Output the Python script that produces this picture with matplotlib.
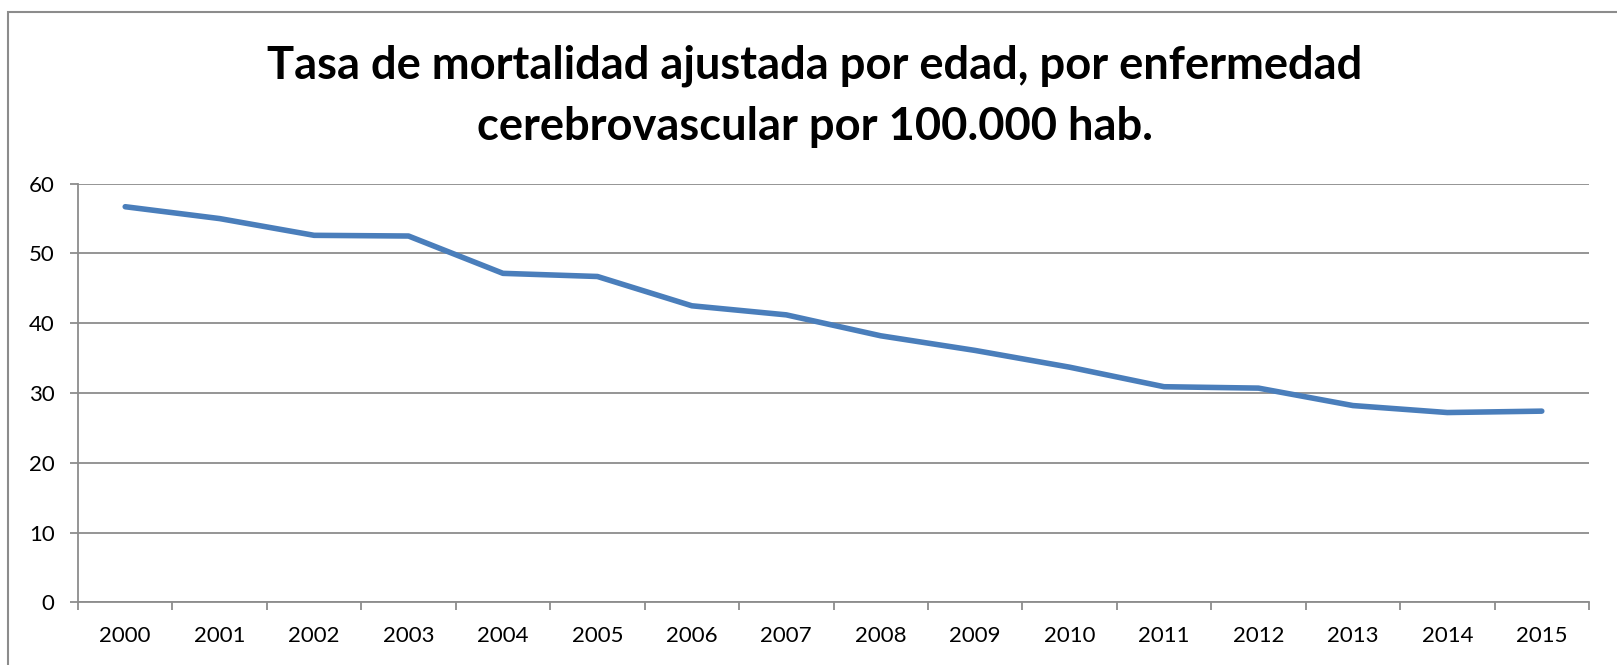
import matplotlib
matplotlib.use("Agg")
import matplotlib.pyplot as plt
from matplotlib.patches import Rectangle
from matplotlib.ticker import FixedLocator, NullFormatter

years = ["2000", "2001", "2002", "2003", "2004", "2005", "2006", "2007",
         "2008", "2009", "2010", "2011", "2012", "2013", "2014", "2015"]
rates = [56.7, 55.0, 52.6, 52.5, 47.15, 46.7, 42.5, 41.2,
         38.2, 36.1, 33.7, 30.9, 30.7, 28.2, 27.2, 27.4]
y_ticks = [0, 10, 20, 30, 40, 50, 60]
title = "Tasa de mortalidad ajustada por edad, por enfermedad\ncerebrovascular por 100.000 hab."

W, H, DPI = 1617, 665, 100
fig = plt.figure(figsize=(W / DPI, H / DPI), dpi=DPI)
fig.patch.set_facecolor("white")

# chart-area border (runs off the right and bottom edges)
fig.patches.append(Rectangle((8 / W, -0.05), 1.2, 1 - 12 / H + 0.05,
                             transform=fig.transFigure, fill=False,
                             edgecolor="#8c8c8c", linewidth=1.5))

ax = fig.add_axes([78 / W, 1 - 602.3 / H, (1589 - 78) / W, (602.3 - 183.7) / H])
x = list(range(len(years)))
ax.plot(x, rates, color="#4A7EBB", linewidth=4.0, solid_capstyle="round",
        solid_joinstyle="round", zorder=3)

ax.set_xlim(-0.5, len(years) - 0.5)
ax.set_ylim(0, 60)

grid_c = "#8c8c8c"
ax.set_yticks(y_ticks)
ax.yaxis.grid(True, color=grid_c, linewidth=1.3)
ax.set_axisbelow(True)

# category boundaries carry the tick marks; labels sit at category centres
ax.xaxis.set_major_locator(FixedLocator([i - 0.5 for i in range(len(years) + 1)]))
ax.xaxis.set_major_formatter(NullFormatter())
ax.xaxis.set_minor_locator(FixedLocator(x))
ax.set_xticklabels(years, minor=True)

label_font = ["Lato", "DejaVu Sans"]
ax.tick_params(axis="x", which="major", length=8 * 0.72, width=1.3, color=grid_c,
               direction="out")
ax.tick_params(axis="x", which="minor", length=0, pad=17, labelsize=16)
ax.tick_params(axis="y", length=8 * 0.72, width=1.3, color=grid_c, pad=11,
               labelsize=16)
for lbl in ax.get_xticklabels(minor=True) + ax.get_yticklabels():
    lbl.set_family(label_font)

for side in ("top", "right"):
    ax.spines[side].set_visible(False)
for side in ("left", "bottom"):
    ax.spines[side].set_color(grid_c)
    ax.spines[side].set_linewidth(1.3)

fig.text(815 / W, 1 - 96 / H, title, ha="center", va="center",
         fontsize=32.6, fontweight="bold", family=label_font, linespacing=1.55)

fig.savefig("out.png", dpi=DPI, facecolor="white")
